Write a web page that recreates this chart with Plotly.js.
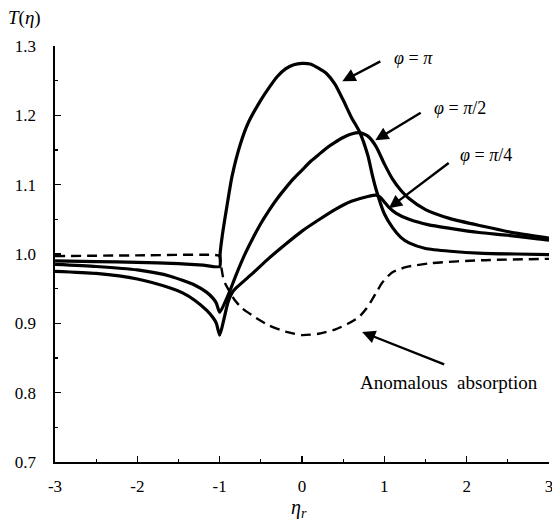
<!DOCTYPE html>
<html>
<head>
<meta charset="utf-8">
<script src="https://cdn.plot.ly/plotly-3.0.1.min.js"></script>
<style>html,body{margin:0;padding:0;background:#fff;}#chart{width:552px;height:526px;}</style>
</head>
<body>
<div id="chart"></div>
<script>
// phi = pi
const etaPi = [-3,-2.5,-2,-1.5,-1.2,-1.0,-0.995,-0.97,-0.92,-0.85,-0.75,-0.65,-0.5,-0.4,-0.3,-0.2,-0.1,0,0.1,0.2,0.3,0.4,0.5,0.6,0.7,0.8,0.85,0.9,1.0,1.1,1.2,1.3,1.5,1.8,2.2,2.6,3];
const tPi   = [0.990,0.989,0.988,0.986,0.984,0.982,1.000,1.025,1.063,1.112,1.158,1.190,1.222,1.240,1.256,1.267,1.273,1.275,1.274,1.268,1.260,1.245,1.222,1.197,1.176,1.142,1.116,1.093,1.058,1.038,1.024,1.016,1.008,1.004,1.001,1.000,0.999];
// phi = pi/2
const etaHalf = [-3,-2.5,-2,-1.6,-1.3,-1.16,-1.08,-1.04,-1.0,-0.9,-0.8,-0.7,-0.6,-0.5,-0.4,-0.3,-0.2,-0.1,0,0.1,0.2,0.3,0.4,0.5,0.6,0.7,0.8,0.9,1.0,1.1,1.2,1.3,1.5,1.8,2.2,2.6,3];
const tHalf   = [0.985,0.982,0.977,0.968,0.955,0.945,0.936,0.929,0.916,0.940,0.970,0.998,1.022,1.044,1.063,1.080,1.095,1.109,1.121,1.133,1.143,1.153,1.161,1.168,1.173,1.175,1.170,1.155,1.130,1.108,1.092,1.080,1.064,1.051,1.040,1.030,1.023];
// phi = pi/4
const etaQuarter = [-3,-2.5,-2,-1.6,-1.45,-1.3,-1.16,-1.08,-1.04,-1.0,-0.95,-0.9,-0.85,-0.8,-0.6,-0.4,-0.2,0,0.2,0.4,0.6,0.8,0.9,0.95,1.0,1.05,1.14,1.3,1.54,1.8,2.15,2.5,2.84,3];
const tQuarter   = [0.975,0.972,0.964,0.951,0.944,0.933,0.919,0.908,0.900,0.883,0.905,0.930,0.944,0.951,0.972,0.994,1.014,1.033,1.049,1.064,1.076,1.083,1.085,1.082,1.075,1.068,1.059,1.050,1.042,1.037,1.031,1.027,1.022,1.020];
// anomalous absorption (dashed)
const etaAbs = [-3,-2,-1.02,-1.0,-0.98,-0.95,-0.89,-0.82,-0.73,-0.56,-0.4,-0.2,0,0.2,0.4,0.55,0.69,0.78,0.85,0.92,0.97,1.09,1.26,1.58,2.18,3];
const tAbs   = [0.997,0.998,0.998,0.996,0.981,0.962,0.948,0.934,0.922,0.908,0.897,0.888,0.883,0.885,0.891,0.899,0.909,0.921,0.934,0.948,0.958,0.973,0.981,0.987,0.991,0.993];

const xTicks = [-3,-2,-1,0,1,2,3];
const yTicks = [0.7,0.8,0.9,1.0,1.1,1.2,1.3];
const yTickText = ['0.7','0.8','0.9','1.0','1.1','1.2','1.3'];

const FONT = 'Liberation Serif, Times New Roman, serif';
const solid = {color:'#000', width:3.2, shape:'spline', smoothing:0.6};

const traces = [
  {x:etaPi, y:tPi, mode:'lines', line:solid, name:'φ=π'},
  {x:etaHalf, y:tHalf, mode:'lines', line:solid, name:'φ=π/2'},
  {x:etaQuarter, y:tQuarter, mode:'lines', line:solid, name:'φ=π/4'},
  {x:etaAbs, y:tAbs, mode:'lines', line:{color:'#000', width:2.4, dash:'10px,6px', shape:'spline', smoothing:0.6}, name:'Anomalous absorption'}
];

function arrow(hx, hy, tx, ty){
  return {x:hx, y:hy, ax:tx, ay:ty, xref:'x', yref:'y', axref:'x', ayref:'y',
          text:'', showarrow:true, arrowhead:2, arrowsize:1.1, arrowwidth:2.4, arrowcolor:'#000'};
}
function label(x, y, txt, size){
  return {x:x, y:y, xref:'x', yref:'y', text:txt, showarrow:false,
          font:{family:FONT, size:size, color:'#000'}, xanchor:'center', yanchor:'middle'};
}

const layout = {
  width:552, height:526,
  margin:{l:55, r:3, t:46, b:64},
  paper_bgcolor:'#fff', plot_bgcolor:'#fff',
  showlegend:false,
  font:{family:FONT, size:17, color:'#000'},
  xaxis:{range:[-3,3], tickvals:xTicks, ticktext:xTicks.map(v=>v<0?'-'+Math.abs(v):String(v)),
         ticks:'inside', ticklen:6, tickwidth:1.2, tickcolor:'#000',
         minor:{dtick:0.5, ticks:'inside', ticklen:3, tickcolor:'#000'},
         showline:true, linecolor:'#000', linewidth:1.6, showgrid:false, zeroline:false,
         ticklabelstandoff:8, ticklabeloverflow:'allow', tickfont:{family:FONT, size:17}},
  yaxis:{range:[0.7,1.3], tickvals:yTicks, ticktext:yTickText,
         ticks:'inside', ticklen:6, tickwidth:1.2, tickcolor:'#000',
         minor:{dtick:0.05, ticks:'inside', ticklen:3, tickcolor:'#000'},
         showline:true, linecolor:'#000', linewidth:1.6, showgrid:false, zeroline:false,
         ticklabelstandoff:14, tickfont:{family:FONT, size:17}},
  annotations:[
    arrow(0.49, 1.249, 0.97, 1.279),
    arrow(0.89, 1.164, 1.46, 1.205),
    arrow(1.055, 1.066, 1.80, 1.133),
    arrow(0.73, 0.8875, 1.745, 0.840),
    label(1.36, 1.283, '<i>φ</i> = <i>π</i>', 18),
    label(1.915, 1.211, '<i>φ</i> = <i>π</i>/2', 18),
    label(2.23, 1.143, '<i>φ</i> = <i>π</i>/4', 18),
    label(1.78, 0.814, 'Anomalous  absorption', 19),
    {x:-0.0626, y:1.067, xref:'paper', yref:'paper', text:'<i>T</i>(<i>η</i>)', showarrow:false,
     font:{family:FONT, size:19, color:'#000'}, xanchor:'center', yanchor:'middle'},
    {x:0.4945, y:-0.112, xref:'paper', yref:'paper', text:'<i>η<sub>r</sub></i>', showarrow:false,
     font:{family:FONT, size:20, color:'#000'}, xanchor:'center', yanchor:'middle'}
  ]
};

Plotly.newPlot('chart', traces, layout, {displayModeBar:false, staticPlot:true});
</script>
</body>
</html>
